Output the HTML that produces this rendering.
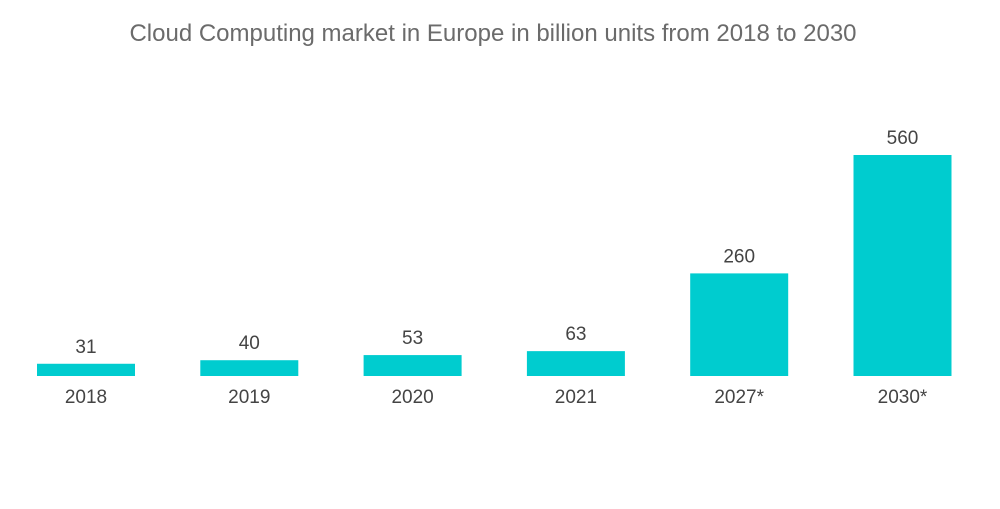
<!DOCTYPE html>
<html><head><meta charset="utf-8"><style>
body{margin:0;background:#fff;width:1000px;height:504px;overflow:hidden;font-family:"Liberation Sans",sans-serif}
</style></head><body>
<svg width="1000" height="504">
<text x="493" y="41" text-anchor="middle" font-size="24" fill="#6b6b6b">Cloud Computing market in Europe in billion units from 2018 to 2030</text>
<g id="bars"></g>
</svg>
<script>
const categories=["2018","2019","2020","2021","2027*","2030*"];
const values=[31,40,53,63,260,560];
const valueLabels=["31","40","53","63","260","560"];
const baseY=376, scale=221/560, x0=37, step=163.3, bw=98;
const y=v=>baseY-v*scale;
const x=i=>x0+i*step;
const g=document.getElementById('bars');
const ns='http://www.w3.org/2000/svg';
values.forEach((v,i)=>{
 const r=document.createElementNS(ns,'rect');
 r.setAttribute('x',x(i));r.setAttribute('y',y(v));r.setAttribute('width',bw);r.setAttribute('height',baseY-y(v));r.setAttribute('fill','#00cccf');
 
 
 g.appendChild(r);
 const t=document.createElementNS(ns,'text');
 t.setAttribute('x',x(i)+bw/2);t.setAttribute('y',y(v)-11);t.setAttribute('text-anchor','middle');t.setAttribute('font-size','19');t.setAttribute('fill','#444');
 t.textContent=valueLabels[i];
 
 
 g.appendChild(t);
 const c=document.createElementNS(ns,'text');
 c.setAttribute('x',x(i)+bw/2);c.setAttribute('y',403);c.setAttribute('text-anchor','middle');c.setAttribute('font-size','19');c.setAttribute('fill','#444');
 c.textContent=categories[i];
 
 
 g.appendChild(c);
});
</script>
</body></html>
